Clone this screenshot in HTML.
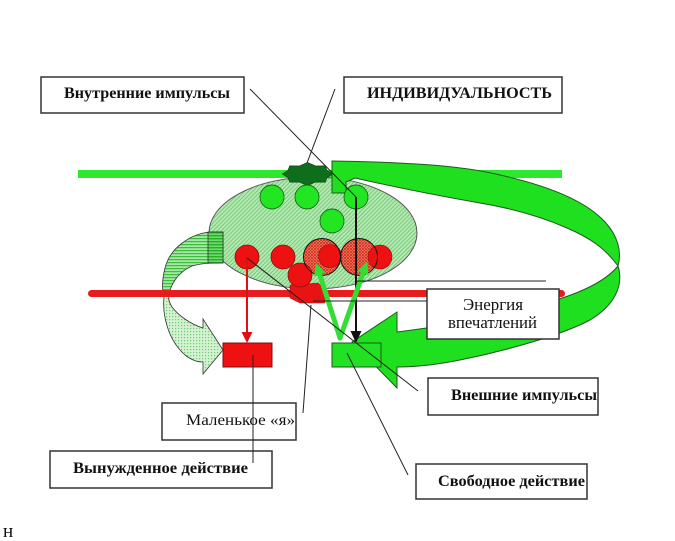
<!DOCTYPE html>
<html><head><meta charset="utf-8"><style>
html,body{margin:0;padding:0;background:#fff;}
svg{display:block;}
</style></head><body>
<svg width="675" height="541" viewBox="0 0 675 541" xmlns="http://www.w3.org/2000/svg">
<defs>
<pattern id="ell" width="4" height="4" patternUnits="userSpaceOnUse">
<rect width="4" height="4" fill="#b6eab6"/>
<path d="M-1,1 l2,-2 M0,4 l4,-4 M3,5 l2,-2" stroke="#78cf78" stroke-width="1.1"/>
</pattern>
<pattern id="hs" width="3" height="3" patternUnits="userSpaceOnUse">
<rect width="3" height="3" fill="#a6e6a6"/>
<rect y="1" width="3" height="1.2" fill="#38c038"/>
</pattern>
<pattern id="hsd" width="3" height="3" patternUnits="userSpaceOnUse">
<rect width="3" height="3" fill="#6fd86f"/>
<rect y="1" width="3" height="1.4" fill="#24b024"/>
</pattern>
<pattern id="dots" width="3" height="3" patternUnits="userSpaceOnUse">
<rect width="3" height="3" fill="#d2f2d2"/>
<rect x="1" y="1" width="1.2" height="1.2" fill="#72cc72"/>
</pattern>
<pattern id="cross" width="3" height="3" patternUnits="userSpaceOnUse">
<rect width="3" height="3" fill="#f0a888"/>
<path d="M0,0 L3,3 M3,0 L0,3" stroke="#d83020" stroke-width="1"/>
</pattern>
</defs>

<!-- green bar -->
<rect x="78" y="170" width="484" height="8" fill="#2ee82e"/>

<!-- ellipse -->
<ellipse cx="313" cy="233" rx="104" ry="56" fill="url(#ell)" stroke="#555" stroke-width="1"/>

<!-- upper band of big green arrow -->
<path d="M332,161 C400,162 460,165 500,175 C545,185 585,200 605,222 C618,236 622,252 618,266 C605,248 590,238 567,228 C540,216 510,208 480,203 C440,196 390,186 355,178 L346,182 L346,193 L332,193 Z" fill="#1fe01f" stroke="#1d5a1d" stroke-width="1"/>

<!-- star -->
<polygon points="332.5,174 327,177.5 325.2,182.1 315.5,182 307.5,185.5 299.5,182 289.8,182.1 288,177.5 282.5,174 288,170.5 289.8,165.9 299.5,166 307.5,162.5 315.5,166 325.2,165.9 327,170.5" fill="#0f6e1b" stroke="#0a4a10" stroke-width="0.8"/>

<!-- left curved arrow -->
<path d="M223,232 L210,232 C190,234 170,248 165,268 C162,280 162,290 164,296 L169,296 C170,285 178,272 192,266 C202,263 212,263 223,263 Z" fill="url(#hs)" stroke="#333" stroke-width="0.8"/>
<rect x="208" y="232" width="15" height="31" fill="url(#hsd)" stroke="#333" stroke-width="0.8"/>
<path d="M164,296 C162,315 168,340 185,355 C193,361 198,362 203,362 L203,374 L223,350 L203,319 L203,328 C190,324 178,315 172,307 C169,302 168,299 169,296 Z" fill="url(#dots)" stroke="#333" stroke-width="0.8"/>

<!-- red bar -->
<rect x="88" y="290" width="477" height="7" rx="3.5" fill="#e81c1c"/>
<!-- red shape -->
<polygon points="290,285 318,283 325,290 325,303 300,303 290,298" fill="#e81414" stroke="#a01010" stroke-width="0.6"/>

<!-- red circles -->
<circle cx="247" cy="257" r="12" fill="#ee1111" stroke="#8a1010" stroke-width="0.8"/>
<circle cx="283" cy="257" r="12" fill="#ee1111" stroke="#8a1010" stroke-width="0.8"/>
<circle cx="322" cy="257" r="18.5" fill="url(#cross)"/>
<circle cx="359" cy="257" r="18.5" fill="url(#cross)"/>
<circle cx="300" cy="275" r="12" fill="#ee1111" stroke="#8a1010" stroke-width="0.8"/>
<circle cx="330" cy="256" r="11.5" fill="#ee1111" stroke="#8a1010" stroke-width="0.6"/>
<circle cx="380" cy="257" r="12" fill="#ee1111" stroke="#8a1010" stroke-width="0.6"/>
<circle cx="322" cy="257" r="18.5" fill="none" stroke="#111" stroke-width="1"/>
<circle cx="359" cy="257" r="18.5" fill="none" stroke="#111" stroke-width="1"/>

<!-- green circles -->
<circle cx="272" cy="197" r="12" fill="#22e622" stroke="#1a6a1a" stroke-width="0.9"/>
<circle cx="307" cy="197" r="12" fill="#22e622" stroke="#1a6a1a" stroke-width="0.9"/>
<circle cx="356" cy="197" r="12" fill="#22e622" stroke="#1a6a1a" stroke-width="0.9"/>
<circle cx="332" cy="221" r="12" fill="#22e622" stroke="#1a6a1a" stroke-width="0.9"/>

<!-- lower band with arrowhead -->
<path d="M618,266 C624,285 615,305 590,320 C560,336 500,352 460,360 C435,365 415,367 397,367 L397,388 L352,342 L397,312 L397,332 C430,328 480,320 520,310 C560,300 600,288 618,266 Z" fill="#1fe01f" stroke="#1d5a1d" stroke-width="1"/>

<!-- action rects -->
<rect x="223" y="343" width="49" height="24" fill="#ee1111" stroke="#7a1010" stroke-width="1"/>
<rect x="332" y="343" width="49" height="24" fill="#22e022" stroke="#1a5a1a" stroke-width="1"/>

<!-- red arrow -->
<line x1="247" y1="258" x2="247" y2="334" stroke="#e01010" stroke-width="2"/>
<polygon points="241.5,332 252.5,332 247,343" fill="#e01010"/>
<!-- black arrow -->
<line x1="356" y1="197" x2="356" y2="333" stroke="#111" stroke-width="2"/>
<polygon points="350.5,331 361.5,331 356,343" fill="#111"/>
<!-- green V -->
<line x1="340" y1="338" x2="319.7" y2="274.4" stroke="#33dd33" stroke-width="5" stroke-linecap="round"/>
<line x1="340" y1="338" x2="363" y2="273.3" stroke="#33dd33" stroke-width="5" stroke-linecap="round"/>
<polygon points="316,263 325.4,272.6 314,276.2" fill="#33dd33"/>
<polygon points="367,262 368.6,275.3 357.3,271.3" fill="#33dd33"/>

<!-- leader lines -->
<g stroke="#222" stroke-width="1" fill="none">
<line x1="250" y1="89" x2="356" y2="197"/>
<line x1="335" y1="89" x2="307" y2="163"/>
<line x1="247" y1="258" x2="418" y2="391"/>
<line x1="311" y1="305" x2="303" y2="413"/>
<line x1="347" y1="353" x2="408" y2="475"/>
<line x1="357" y1="281" x2="546" y2="281"/>
<line x1="313" y1="301" x2="428" y2="301"/>
</g>

<!-- boxes -->
<g fill="#fff" stroke="#333" stroke-width="1.5">
<rect x="41" y="77" width="203" height="36"/>
<rect x="344" y="77" width="218" height="36"/>
<rect x="427" y="289" width="132" height="50"/>
<rect x="428" y="378" width="170" height="37"/>
<rect x="416" y="464" width="171" height="35"/>
<rect x="162" y="403" width="134" height="37"/>
<rect x="50" y="451" width="222" height="37"/>
</g>
<line x1="253" y1="355" x2="253" y2="463" stroke="#222" stroke-width="1"/>

<g font-family="'Liberation Serif', 'Noto Serif CJK SC', serif" fill="#111">
<text x="64" y="98" font-size="16" font-weight="bold" textLength="166" lengthAdjust="spacingAndGlyphs">Внутренние импульсы</text>
<text x="367" y="98" font-size="16" font-weight="bold" textLength="185" lengthAdjust="spacingAndGlyphs">ИНДИВИДУАЛЬНОСТЬ</text>
<text x="463" y="310" font-size="17" textLength="60" lengthAdjust="spacingAndGlyphs">Энергия</text>
<text x="448" y="328" font-size="17" textLength="89" lengthAdjust="spacingAndGlyphs">впечатлений</text>
<text x="451" y="400" font-size="16" font-weight="bold" textLength="146" lengthAdjust="spacingAndGlyphs">Внешние импульсы</text>
<text x="438" y="486" font-size="16" font-weight="bold" textLength="147" lengthAdjust="spacingAndGlyphs">Свободное действие</text>
<text x="186" y="425" font-size="16" textLength="109" lengthAdjust="spacingAndGlyphs">Маленькое «я»</text>
<text x="73" y="473" font-size="16" font-weight="bold" textLength="175" lengthAdjust="spacingAndGlyphs">Вынужденное  действие</text>
<text x="3" y="537" font-size="19">н</text>
</g>
</svg>
</body></html>
